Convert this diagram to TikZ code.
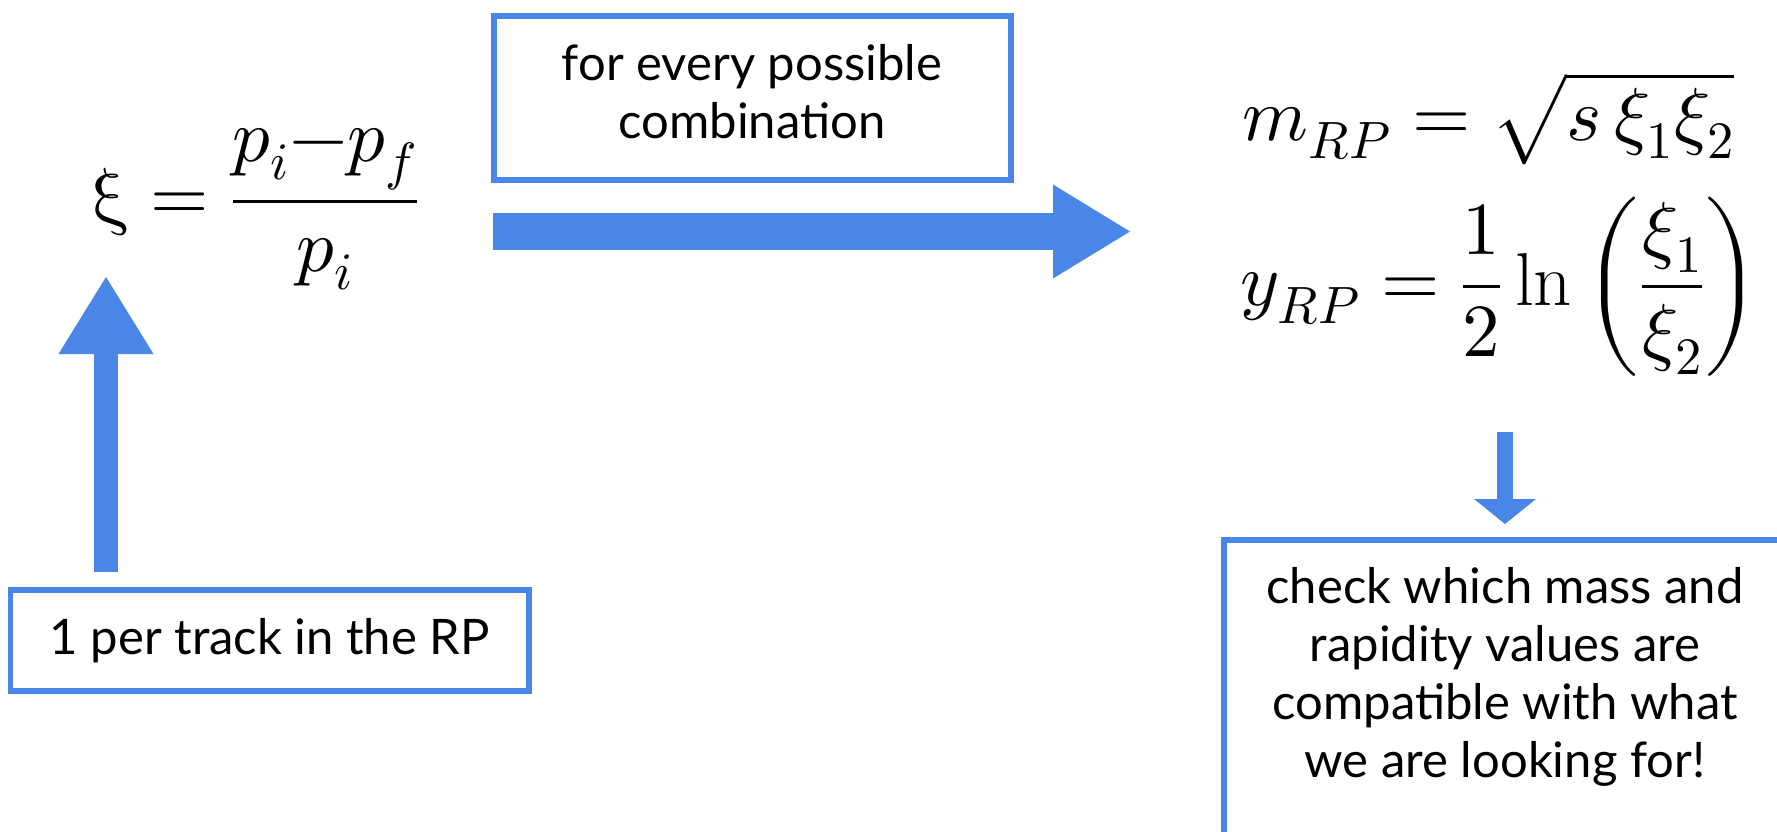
\documentclass[tikz,border=0pt]{standalone}
\usepackage{fontspec}
\usepackage{unicode-math}
\setmainfont{Lato}
\setmathfont{Latin Modern Math}
\setmathrm{Latin Modern Roman}
\usetikzlibrary{arrows.meta}
\definecolor{flowblue}{RGB}{74,134,232}

\begin{document}
\begin{tikzpicture}[x=0.5pt,y=-0.5pt,
  frame/.style={draw=flowblue, line width=2.75pt, inner sep=0pt, outer sep=0pt, rectangle},
  lbl/.style={font=\fontsize{24.5}{29}\selectfont, align=center, inner sep=0pt},
  formula/.style={font=\fontsize{37.5}{45}\selectfont, inner sep=0pt},
  blockarrow/.style n args={3}{draw=flowblue, line width=#1,
    -{Triangle[length=#3, width=#2, line width=0pt, fill=flowblue]}}
]
% canvas
\clip (0,0) rectangle (1777,831);
\fill[white] (0,0) rectangle (1777,831);

% text boxes
\node[frame, minimum width=259.25pt, minimum height=50.5pt, lbl] (rpbox)
  at (269.75,640.5) {1 per track in the RP};
\node[frame, minimum width=258.5pt, minimum height=82pt] (combobox) at (752.5,98) {};
\node[lbl, anchor=north] (combotext) at (752,44) {for every possible\\combination};
\node[frame, anchor=north west, minimum width=283pt, minimum height=170pt] (checkbox) at (1224,540) {};
\node[lbl, anchor=north] (checktext) at (1505,567)
  {check which mass and\\rapidity values are\\compatible with what\\we are looking for!};

% formulas
\node[formula, anchor=base west] (xi) at (90,220)
  {$\displaystyle \upxi = \frac{p_i{-}p_f}{p_i}$};
\node[formula, anchor=base west] (mass) at (1242,140)
  {$m_{RP} = \sqrt{s\,\xi_1\xi_2}$};
\node[formula, anchor=base west] (rap) at (1240,305)
  {$\displaystyle y_{RP} = \frac{1}{2}\ln\left(\frac{\xi_1}{\xi_2}\right)$};

% arrow end points
\coordinate (upfrom) at (106,572);
\coordinate (upto) at (106,277);
\coordinate (rightfrom) at (493,231.5);
\coordinate (rightto) at (1130,231.5);
\coordinate (downfrom) at (1505,432);
\coordinate (downto) at (1505,524);

% block arrows
\draw[blockarrow={12pt}{47.5pt}{38.5pt}] (upfrom) -- (upto);
\draw[blockarrow={18.5pt}{47pt}{38.5pt}] (rightfrom) -- (rightto);
\draw[blockarrow={8pt}{31pt}{12.5pt}] (downfrom) -- (downto);
\end{tikzpicture}
\end{document}
